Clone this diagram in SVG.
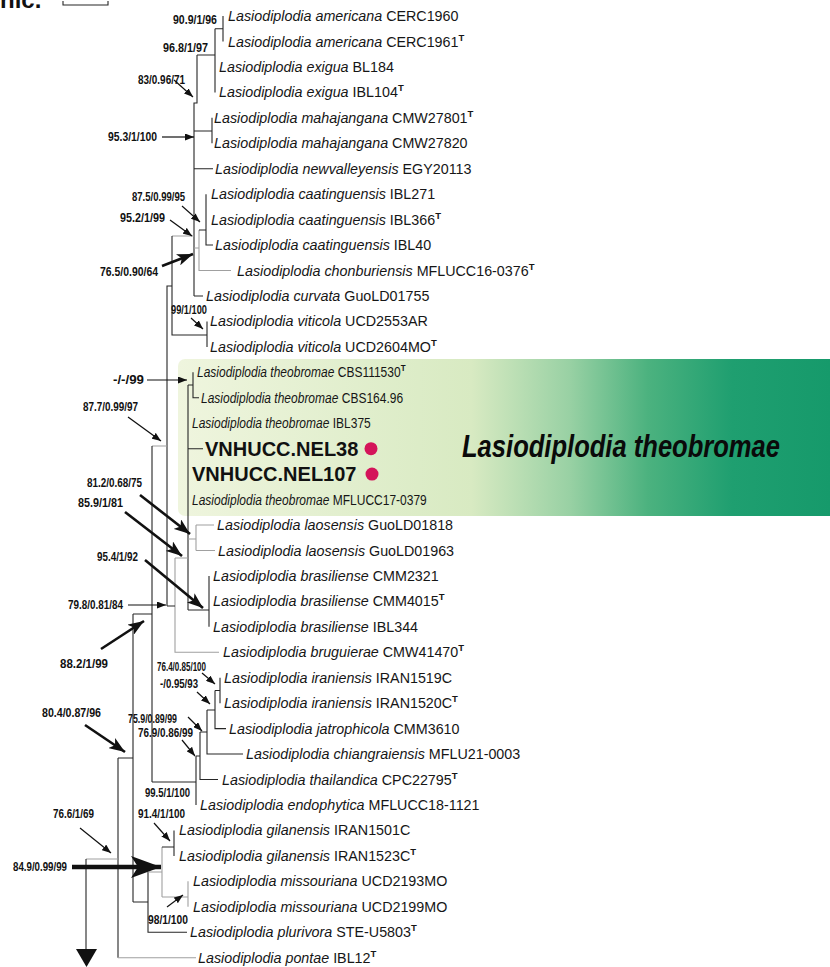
<svg xmlns="http://www.w3.org/2000/svg" width="830" height="967" viewBox="0 0 830 967">
<defs>
<linearGradient id="band" gradientUnits="userSpaceOnUse" x1="178" y1="0" x2="830" y2="0">
<stop offset="0" stop-color="#eff5de"/>
<stop offset="0.45" stop-color="#d8eac2"/>
<stop offset="0.6" stop-color="#99d1a4"/>
<stop offset="0.72" stop-color="#4cb27f"/>
<stop offset="0.85" stop-color="#1f9f70"/>
<stop offset="1" stop-color="#169a6b"/>
</linearGradient>
<marker id="sm" markerUnits="userSpaceOnUse" markerWidth="9" markerHeight="7" refX="9" refY="3.5" orient="auto"><path d="M0,0 L9,3.5 L0,7 Z" fill="#111"/></marker>
<marker id="bd" markerUnits="userSpaceOnUse" markerWidth="16" markerHeight="12" refX="16" refY="6" orient="auto"><path d="M0,0 L16,6 L0,12 L4,6 Z" fill="#111"/></marker>
<marker id="hg" markerUnits="userSpaceOnUse" markerWidth="30" markerHeight="22" refX="30" refY="11" orient="auto"><path d="M0,0 L30,11 L0,22 L7,11 Z" fill="#111"/></marker>
</defs>
<style>
.b{stroke:#262626;stroke-width:1.1;fill:none}
.g{stroke:#a0a0a0;stroke-width:1.1;fill:none}
.a1{stroke:#111;stroke-width:1.2;fill:none;marker-end:url(#sm)}
.a2{stroke:#111;stroke-width:2.6;fill:none;marker-end:url(#bd)}
.a3{stroke:#111;stroke-width:4.5;fill:none;marker-end:url(#hg)}
.t{font-family:"Liberation Sans",Arial,sans-serif;font-size:14.3px;fill:#161616}
.tn{font-family:"Liberation Sans",Arial,sans-serif;font-size:14.3px;fill:#161616}
.i{font-style:italic}
.sup{font-size:9.5px;font-weight:bold}
.s{font-family:"Liberation Sans",Arial,sans-serif;font-size:13.5px;font-weight:bold;fill:#111}
.nel{font-family:"Liberation Sans",Arial,sans-serif;font-size:20px;font-weight:bold;fill:#111}
.big{font-family:"Liberation Sans",Arial,sans-serif;font-size:31px;font-weight:bold;font-style:italic;fill:#0a0a0a}
</style>

<g id="header">
<text x="0" y="8" style="font-family:'Liberation Sans',Arial,sans-serif;font-size:24px;font-weight:bold;fill:#111">nic.</text>
<path d="M63,1 V5 H108 V1" class="b" stroke="#555"/>
</g>

<g id="band-theobromae">
<rect x="178" y="359" width="660" height="157" rx="7" fill="url(#band)"/>
<text class="big" x="462" y="457" textLength="318" lengthAdjust="spacingAndGlyphs">Lasiodiplodia theobromae</text>
</g>

<g id="connectors">
<path class="b" d="M223,16 V41.5 M215,28.7 H223 M215,28.7 V92.4 M197,55 H215 M197,55 V103 H194 V296 M194,131 H212 M212,117.8 V143.3 M194,168.7 H213"/>
<path class="g" d="M194,236 H172 M194,248 H199 M199,230 V270.5 H231"/>
<path class="b" d="M199,230 H206 M206,194.2 V245 H213 M194,296 H203"/>
<path class="b" d="M172,236 V335 H207 M207,321.4 V346.9 M172,286 H167 V606"/>
<path class="b" d="M193,372.3 V397.8 H199 M188,385 H193 M188,385 V610 M188,448.7 H203 M188,610 H209 M209,575.9 V626.8"/>
<path class="g" d="M188,539 H196 M196,525 V550.5 M196,525 H214 M196,550.5 H215"/>
<path class="g" d="M175,558 H188 M175,558 V652.3 H219 M152,446 H167"/>
<path class="b" d="M167,606 H175 M152,446 V782 M133,614 H152 M133,614 V902"/>
<path class="b" d="M220,677.7 V703.2 M215,690.5 H220 M215,690.5 V728.6 H226 M207,710 H215 M207,710 V754 H243 M200,732 H207 M200,732 V779.5 H218 M196,756 H200 M196,756 V805 M152,782 H196"/>
<path class="b" d="M118,758 H133 M118,758 V957.7 M133,902 H148 M148,872 V932.2 H187"/>
<path class="g" d="M118,957.7 H196 M148,872 H162 M162,847 V897 M162,897 H188 M188,881.3 V906.8 M86,859 H118"/>
<path class="b" d="M162,847 H174 M174,830.4 V855.9 M86,859 V952"/>
<path d="M76,949 H97 L86.5,967 Z" fill="#111"/>
</g>

<g id="support-arrows">
<path class="a1" d="M174,80 L193,97"/>
<path class="a1" d="M162,137 L194,137"/>
<path class="a1" d="M182,206 L200,222"/>
<path class="a1" d="M170,220 L192,236"/>
<path class="a1" d="M191,318 L203,329"/>
<path class="a1" d="M147,380 L187,380"/>
<path class="a1" d="M128,417 L161,441"/>
<path class="a1" d="M128,605 L166,605"/>
<path class="a1" d="M202,673 L215,684"/>
<path class="a1" d="M197,692 L210,704"/>
<path class="a1" d="M188,717 L202,731"/>
<path class="a1" d="M182,740 L195,756"/>
<path class="a1" d="M80,828 L111,853"/>
<path class="a1" d="M154,823 L170,841"/>
<path class="a1" d="M167,907 L183,895"/>
<path class="a2" d="M162,266 L193,254"/>
<path class="a2" d="M140,495 L190,534"/>
<path class="a2" d="M125,512 L182,556"/>
<path class="a2" d="M145,560 L203,608"/>
<path class="a2" d="M101,649 L144,621"/>
<path class="a2" d="M85,725 L125,752"/>
<path class="a3" d="M72,867 L161,867"/>
</g>

<g id="support-labels">
<text class="s" x="173" y="24" textLength="44" lengthAdjust="spacingAndGlyphs">90.9/1/96</text>
<text class="s" x="163" y="52" textLength="45" lengthAdjust="spacingAndGlyphs">96.8/1/97</text>
<text class="s" x="138" y="84" textLength="47" lengthAdjust="spacingAndGlyphs">83/0.96/71</text>
<text class="s" x="108" y="141" textLength="49" lengthAdjust="spacingAndGlyphs">95.3/1/100</text>
<text class="s" x="132" y="201" textLength="53" lengthAdjust="spacingAndGlyphs">87.5/0.99/95</text>
<text class="s" x="120" y="222" textLength="45" lengthAdjust="spacingAndGlyphs">95.2/1/99</text>
<text class="s" x="100" y="276" textLength="58" lengthAdjust="spacingAndGlyphs">76.5/0.90/64</text>
<text class="s" x="171" y="314" textLength="36" lengthAdjust="spacingAndGlyphs">99/1/100</text>
<text class="s" x="113" y="384" textLength="31" lengthAdjust="spacingAndGlyphs">-/-/99</text>
<text class="s" x="83" y="411" textLength="55" lengthAdjust="spacingAndGlyphs">87.7/0.99/97</text>
<text class="s" x="87" y="487" textLength="55" lengthAdjust="spacingAndGlyphs">81.2/0.68/75</text>
<text class="s" x="78" y="507" textLength="45" lengthAdjust="spacingAndGlyphs">85.9/1/81</text>
<text class="s" x="97" y="561" textLength="41" lengthAdjust="spacingAndGlyphs">95.4/1/92</text>
<text class="s" x="68" y="609" textLength="55" lengthAdjust="spacingAndGlyphs">79.8/0.81/84</text>
<text class="s" x="60" y="668" textLength="48" lengthAdjust="spacingAndGlyphs">88.2/1/99</text>
<text class="s" x="157" y="671" textLength="49" lengthAdjust="spacingAndGlyphs">76.4/0.85/100</text>
<text class="s" x="160" y="688" textLength="38" lengthAdjust="spacingAndGlyphs">-/0.95/93</text>
<text class="s" x="42" y="717" textLength="59" lengthAdjust="spacingAndGlyphs">80.4/0.87/96</text>
<text class="s" x="128" y="723" textLength="49" lengthAdjust="spacingAndGlyphs">75.9/0.89/99</text>
<text class="s" x="138" y="737" textLength="55" lengthAdjust="spacingAndGlyphs">76.9/0.86/99</text>
<text class="s" x="145" y="797" textLength="45" lengthAdjust="spacingAndGlyphs">99.5/1/100</text>
<text class="s" x="53" y="818" textLength="41" lengthAdjust="spacingAndGlyphs">76.6/1/69</text>
<text class="s" x="138" y="818" textLength="47" lengthAdjust="spacingAndGlyphs">91.4/1/100</text>
<text class="s" x="13" y="871" textLength="54" lengthAdjust="spacingAndGlyphs">84.9/0.99/99</text>
<text class="s" x="148" y="924" textLength="40" lengthAdjust="spacingAndGlyphs">98/1/100</text>
</g>

<g id="tips">
<g id="n0"><text class="t" x="228" y="21"><tspan class="i">Lasiodiplodia americana</tspan> CERC1960</text></g>
<g id="n1"><text class="t" x="228" y="46.5"><tspan class="i">Lasiodiplodia americana</tspan> CERC1961<tspan class="sup" dy="-6">T</tspan></text></g>
<g id="n2"><text class="t" x="219" y="72"><tspan class="i">Lasiodiplodia exigua</tspan> BL184</text></g>
<g id="n3"><text class="t" x="219" y="97.4"><tspan class="i">Lasiodiplodia exigua</tspan> IBL104<tspan class="sup" dy="-6">T</tspan></text></g>
<g id="n4"><text class="t" x="214" y="122.8"><tspan class="i">Lasiodiplodia mahajangana</tspan> CMW27801<tspan class="sup" dy="-6">T</tspan></text></g>
<g id="n5"><text class="t" x="214" y="148.3"><tspan class="i">Lasiodiplodia mahajangana</tspan> CMW27820</text></g>
<g id="n6"><text class="t" x="215" y="173.7"><tspan class="i">Lasiodiplodia newvalleyensis</tspan> EGY20113</text></g>
<g id="n7"><text class="t" x="211" y="199.2"><tspan class="i">Lasiodiplodia caatinguensis</tspan> IBL271</text></g>
<g id="n8"><text class="t" x="211" y="224.6"><tspan class="i">Lasiodiplodia caatinguensis</tspan> IBL366<tspan class="sup" dy="-6">T</tspan></text></g>
<g id="n9"><text class="t" x="215" y="250"><tspan class="i">Lasiodiplodia caatinguensis</tspan> IBL40</text></g>
<g id="n10"><text class="t" x="237" y="275.5"><tspan class="i">Lasiodiplodia chonburiensis</tspan> MFLUCC16-0376<tspan class="sup" dy="-6">T</tspan></text></g>
<g id="n11"><text class="t" x="206" y="301"><tspan class="i">Lasiodiplodia curvata</tspan> GuoLD01755</text></g>
<g id="n12"><text class="t" x="210" y="326.4"><tspan class="i">Lasiodiplodia viticola</tspan> UCD2553AR</text></g>
<g id="n13"><text class="t" x="210" y="351.9"><tspan class="i">Lasiodiplodia viticola</tspan> UCD2604MO<tspan class="sup" dy="-6">T</tspan></text></g>
<g id="n14"><text class="tn" transform="translate(197,377.3) scale(0.84,1)"><tspan class="i">Lasiodiplodia theobromae</tspan> CBS111530<tspan class="sup" dy="-6">T</tspan></text></g>
<g id="n15"><text class="tn" transform="translate(201,402.8) scale(0.84,1)"><tspan class="i">Lasiodiplodia theobromae</tspan> CBS164.96</text></g>
<g id="n16"><text class="tn" transform="translate(192,428.2) scale(0.84,1)"><tspan class="i">Lasiodiplodia theobromae</tspan> IBL375</text></g>
<g id="n17"><text class="nel" x="205" y="455.7">VNHUCC.NEL38</text><circle cx="371" cy="448.7" r="6.5" fill="#d4145a"/></g>
<g id="n18"><text class="nel" x="192" y="481.1">VNHUCC.NEL107</text><circle cx="372" cy="474.1" r="6.5" fill="#d4145a"/></g>
<g id="n19"><text class="tn" transform="translate(192,504.6) scale(0.84,1)"><tspan class="i">Lasiodiplodia theobromae</tspan> MFLUCC17-0379</text></g>
<g id="n20"><text class="t" x="217" y="530"><tspan class="i">Lasiodiplodia laosensis</tspan> GuoLD01818</text></g>
<g id="n21"><text class="t" x="218" y="555.5"><tspan class="i">Lasiodiplodia laosensis</tspan> GuoLD01963</text></g>
<g id="n22"><text class="t" x="213" y="580.9"><tspan class="i">Lasiodiplodia brasiliense</tspan> CMM2321</text></g>
<g id="n23"><text class="t" x="213" y="606.4"><tspan class="i">Lasiodiplodia brasiliense</tspan> CMM4015<tspan class="sup" dy="-6">T</tspan></text></g>
<g id="n24"><text class="t" x="213" y="631.8"><tspan class="i">Lasiodiplodia brasiliense</tspan> IBL344</text></g>
<g id="n25"><text class="t" x="223" y="657.3"><tspan class="i">Lasiodiplodia bruguierae</tspan> CMW41470<tspan class="sup" dy="-6">T</tspan></text></g>
<g id="n26"><text class="t" x="224" y="682.7"><tspan class="i">Lasiodiplodia iraniensis</tspan> IRAN1519C</text></g>
<g id="n27"><text class="t" x="224" y="708.2"><tspan class="i">Lasiodiplodia iraniensis</tspan> IRAN1520C<tspan class="sup" dy="-6">T</tspan></text></g>
<g id="n28"><text class="t" x="229" y="733.6"><tspan class="i">Lasiodiplodia jatrophicola</tspan> CMM3610</text></g>
<g id="n29"><text class="t" x="246" y="759"><tspan class="i">Lasiodiplodia chiangraiensis</tspan> MFLU21-0003</text></g>
<g id="n30"><text class="t" x="222" y="784.5"><tspan class="i">Lasiodiplodia thailandica</tspan> CPC22795<tspan class="sup" dy="-6">T</tspan></text></g>
<g id="n31"><text class="t" x="200" y="810"><tspan class="i">Lasiodiplodia endophytica</tspan> MFLUCC18-1121</text></g>
<g id="n32"><text class="t" x="179" y="835.4"><tspan class="i">Lasiodiplodia gilanensis</tspan> IRAN1501C</text></g>
<g id="n33"><text class="t" x="179" y="860.9"><tspan class="i">Lasiodiplodia gilanensis</tspan> IRAN1523C<tspan class="sup" dy="-6">T</tspan></text></g>
<g id="n34"><text class="t" x="193" y="886.3"><tspan class="i">Lasiodiplodia missouriana</tspan> UCD2193MO</text></g>
<g id="n35"><text class="t" x="193" y="911.8"><tspan class="i">Lasiodiplodia missouriana</tspan> UCD2199MO</text></g>
<g id="n36"><text class="t" x="190" y="937.2"><tspan class="i">Lasiodiplodia plurivora</tspan> STE-U5803<tspan class="sup" dy="-6">T</tspan></text></g>
<g id="n37"><text class="t" x="198" y="962.7"><tspan class="i">Lasiodiplodia pontae</tspan> IBL12<tspan class="sup" dy="-6">T</tspan></text></g>
</g>
</svg>
